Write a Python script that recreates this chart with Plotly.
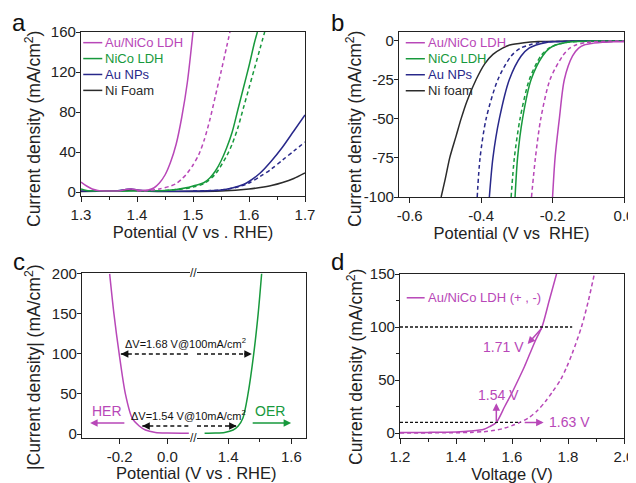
import plotly.graph_objects as go

# the page body has an 8px margin, so the figure is sized/offset to fit the 636x483 window
OFF = 8
W, H = 636 - OFF, 483 - OFF

# ---------------- data ----------------
# Panel a : OER polarization curves (solid / dashed)
a_aunico_x = [1.30, 1.31, 1.32, 1.33, 1.35, 1.37, 1.38, 1.39, 1.40, 1.41, 1.42, 1.43, 1.44, 1.45, 1.46, 1.47, 1.48, 1.49, 1.50]
a_aunico_y = [10, 6, 3, 1.5, 1, 1.2, 2.5, 3, 2, 1.5, 2, 4, 9, 17, 30, 48, 75, 110, 160]
a_aunico_dx = [1.40, 1.42, 1.44, 1.46, 1.47, 1.48, 1.49, 1.50, 1.51, 1.52, 1.53, 1.54, 1.55, 1.56, 1.566]
a_aunico_dy = [1, 1.5, 3, 6, 8.5, 13, 19, 27, 37, 52, 72, 96, 120, 145, 160]
a_nico_x = [1.30, 1.31, 1.33, 1.40, 1.45, 1.47, 1.49, 1.50, 1.51, 1.52, 1.53, 1.54, 1.55, 1.56, 1.57, 1.58, 1.59, 1.60, 1.61, 1.615]
a_nico_y = [3, 1.5, 1, 1, 1.5, 2.5, 4.5, 6, 7.5, 9.5, 14, 21, 31, 44, 60, 82, 104, 126, 150, 160]
a_nico_dx = [1.45, 1.48, 1.50, 1.52, 1.54, 1.56, 1.57, 1.58, 1.59, 1.60, 1.61, 1.62, 1.628]
a_nico_dy = [1.5, 3, 5, 8.5, 18, 36, 48, 64, 84, 104, 124, 144, 160]
a_au_x = [1.30, 1.36, 1.38, 1.39, 1.40, 1.42, 1.50, 1.55, 1.57, 1.59, 1.60, 1.62, 1.64, 1.66, 1.68, 1.70]
a_au_y = [1, 1, 2.5, 3, 2, 1, 1, 2, 4, 7.5, 10.5, 19, 31, 45, 61, 77]
a_au_dx = [1.50, 1.55, 1.58, 1.60, 1.62, 1.64, 1.66, 1.68, 1.70]
a_au_dy = [1, 2, 5, 9, 15.5, 23, 32, 41, 50]
a_ni_x = [1.30, 1.38, 1.39, 1.41, 1.50, 1.55, 1.60, 1.62, 1.64, 1.66, 1.68, 1.70]
a_ni_y = [0.5, 1.5, 2, 1, 0.5, 1, 3, 4.5, 6.5, 9.5, 13.5, 19]

# Panel b : HER polarization curves
b_j = [-100, -75, -50, -25, -10, -5, -3, -1.5, -1, -0.5, -0.4]
b_ni_x = [-0.512, -0.50, -0.488, -0.47, -0.456, -0.44, -0.414, -0.39, -0.367, -0.34, -0.32, -0.28, -0.24, -0.15, 0.0]
b_ni_y = [-100, -88, -75, -61, -50, -39, -25, -15, -9, -5, -3, -1.5, -0.8, -0.4, -0.3]
b_au_x = [-0.377, -0.367, -0.349, -0.321, -0.288, -0.266, -0.246, -0.22, -0.2, -0.1, 0.0]
b_au_dx = [-0.411, -0.403, -0.386, -0.353, -0.316, -0.29, -0.265, -0.24, -0.22, -0.1, 0.0]
b_nico_x = [-0.305, -0.298, -0.284, -0.26, -0.228, -0.208, -0.191, -0.165, -0.144, -0.08, 0.0]
b_nico_dx = [-0.316, -0.307, -0.291, -0.265, -0.233, -0.21, -0.192, -0.166, -0.145, -0.08, 0.0]
b_aunico_dx = [-0.259, -0.248, -0.233, -0.207, -0.172, -0.152, -0.135, -0.11, -0.09, -0.04, 0.0]
b_aunico_x = [-0.200, -0.193, -0.181, -0.167, -0.144, -0.127, -0.112, -0.085, -0.06, -0.03, 0.0]
b_aunico_y = [-100, -75, -50, -25, -10, -5, -3, -1.8, -1.2, -1.0, -0.9]

# Panel c : overall water splitting (HER | OER, broken axis)
c_her_x = [-0.242, -0.224, -0.202, -0.176, -0.148, -0.118, -0.092, -0.05, 0.0, 0.09]
c_her_y = [200, 150, 100, 50, 20, 10, 5, 2, 1.2, 1]
c_oer_x = [1.326, 1.36, 1.389, 1.416, 1.432, 1.447, 1.463, 1.481, 1.495, 1.506]
c_oer_y = [1, 1.2, 2, 5, 10, 20, 50, 100, 150, 200]

# Panel d : two-electrode cell
d_x = [1.20, 1.30, 1.40, 1.45, 1.50, 1.52, 1.544, 1.574, 1.60, 1.622, 1.645, 1.664, 1.685, 1.707, 1.733, 1.759]
d_y = [0.5, 0.6, 1, 1.8, 3.5, 6, 10, 25, 38, 50, 63, 75, 88, 100, 125, 150]
d_dx = [1.20, 1.40, 1.45, 1.50, 1.55, 1.574, 1.60, 1.628, 1.66, 1.69, 1.72, 1.745, 1.773, 1.795, 1.815, 1.848, 1.873, 1.894]
d_dy = [0, 0.3, 0.6, 1.3, 3, 4.7, 7, 10, 14.5, 21, 30, 39, 50, 62, 75, 100, 125, 150]

# tick labels
a_xticks = [1.3, 1.4, 1.5, 1.6, 1.7]
a_xlabels = ["1.3", "1.4", "1.5", "1.6", "1.7"]
a_xminor = [1.35, 1.45, 1.55, 1.65]
a_yticks = [0, 40, 80, 120, 160]
a_ylabels = ["0", "40", "80", "120", "160"]
b_xticks = [-0.6, -0.4, -0.2, 0.0]
b_xlabels = ["-0.6", "-0.4", "-0.2", "0.0"]
b_yticks = [-100, -75, -50, -25, 0]
b_ylabels = ["-100", "-75", "-50", "-25", "0"]
c_xticks_l = [-0.2, 0.0]
c_xlabels_l = ["-0.2", "0.0"]
c_xticks_r = [1.4, 1.6]
c_xlabels_r = ["1.4", "1.6"]
c_xminor_r = [1.5]
c_yticks = [0, 50, 100, 150, 200]
c_ylabels = ["0", "50", "100", "150", "200"]
d_xticks = [1.2, 1.4, 1.6, 1.8, 2.0]
d_xlabels = ["1.2", "1.4", "1.6", "1.8", "2.0"]
d_xminor = [1.3, 1.5, 1.7, 1.9]
d_yticks = [0, 50, 100, 150]
d_ylabels = ["0", "50", "100", "150"]
d_yminor = [25, 75, 125]

# ---------------- style ----------------
MAG = "#B847B8"
GRN = "#17993C"
BLU = "#28288A"
BLK = "#2B2B2B"
AX = "#222222"
FONT = "Liberation Sans, Arial, sans-serif"


def fx(p):
    return (p - OFF) / W


def fy(p):
    return 1 - (p - OFF) / H


fig = go.Figure()


def line(x, y, color, dash="solid", xa="x", ya="y"):
    fig.add_trace(go.Scatter(
        x=x, y=y, mode="lines", xaxis=xa, yaxis=ya, showlegend=False,
        line=dict(color=color, width=1.5, dash=dash, shape="spline", smoothing=0.8),
        hoverinfo="skip"))


DASH = "4px,3px"
# panel a
line(a_ni_x, a_ni_y, BLK)
line(a_au_dx, a_au_dy, BLU, DASH)
line(a_au_x, a_au_y, BLU)
line(a_nico_dx, a_nico_dy, GRN, DASH)
line(a_nico_x, a_nico_y, GRN)
line(a_aunico_dx, a_aunico_dy, MAG, DASH)
line(a_aunico_x, a_aunico_y, MAG)
# panel b
line(b_ni_x, b_ni_y, BLK, xa="x2", ya="y2")
line(b_au_dx, b_j, BLU, DASH, "x2", "y2")
line(b_au_x, b_j, BLU, xa="x2", ya="y2")
line(b_nico_dx, b_j, GRN, DASH, "x2", "y2")
line(b_nico_x, b_j, GRN, xa="x2", ya="y2")
line(b_aunico_dx, b_j, MAG, DASH, "x2", "y2")
line(b_aunico_x, b_aunico_y, MAG, xa="x2", ya="y2")
# panel c
line(c_her_x, c_her_y, MAG, xa="x3", ya="y3")
line(c_oer_x, c_oer_y, GRN, xa="x5", ya="y5")
# panel d
line(d_dx, d_dy, MAG, DASH, "x4", "y4")
line(d_x, d_y, MAG, xa="x4", ya="y4")


def axis(domain, rng, tickvals, ticktext, minor=None, anchor=None, title=None,
         mirror=True, standoff=4, ylike=False, **kw):
    d = dict(domain=domain, range=rng, anchor=anchor, showline=True, linecolor=AX,
             linewidth=1.2, mirror=mirror, ticks="outside", ticklen=4 if ylike else 5,
             tickwidth=1.2, tickcolor=AX, showgrid=False, zeroline=False, tickmode="array",
             tickvals=tickvals, ticktext=ticktext, automargin=False,
             tickfont=dict(family=FONT, size=15, color=AX))
    if ylike:
        d["ticklabelstandoff"] = -3
    if minor:
        d["minor"] = dict(tickmode="array", tickvals=minor, ticks="outside", ticklen=3,
                          tickwidth=1.2, tickcolor=AX, showgrid=False)
    if title:
        d["title"] = dict(text=title, font=dict(family=FONT, size=16.5, color=AX),
                          standoff=standoff)
    d.update(kw)
    return d


layout = dict(
    width=W, height=H, margin=dict(l=0, r=0, t=0, b=0, autoexpand=False),
    paper_bgcolor="white", plot_bgcolor="white",
    font=dict(family=FONT, color=AX),
    xaxis=axis([fx(81), fx(305)], [1.3, 1.7], a_xticks, a_xlabels, a_xminor, "y",
               "Potential (V vs . RHE)", standoff=2),
    yaxis=axis([fy(196), fy(32)], [-4, 160], a_yticks, a_ylabels, None, "x", ylike=True),
    xaxis2=axis([fx(399), fx(624)], [-0.63, 0.0], b_xticks, b_xlabels, None, "y2",
                "Potential (V vs&nbsp; RHE)", standoff=2),
    yaxis2=axis([fy(197), fy(32)], [-100, 5.3], b_yticks, b_ylabels, None, "x2", ylike=True),
    xaxis3=axis([fx(82), fx(190)], [-0.358, 0.095], c_xticks_l, c_xlabels_l, None, "y3"),
    yaxis3=axis([fy(438), fy(273)], [-5, 201], c_yticks, c_ylabels, None, "x3",
                mirror=False, ylike=True),
    xaxis5=axis([fx(197), fx(306)], [1.302, 1.646], c_xticks_r, c_xlabels_r, c_xminor_r, "y5"),
    yaxis5=dict(domain=[fy(438), fy(273)], range=[-5, 201], anchor="x5", side="right",
                showline=True, linecolor=AX, linewidth=1.2, ticks="", showticklabels=False,
                showgrid=False, zeroline=False, automargin=False),
    xaxis4=axis([fx(400), fx(624)], [1.2, 2.0], d_xticks, d_xlabels, d_xminor, "y4",
                "Voltage (V)", standoff=3),
    yaxis4=axis([fy(438), fy(274)], [-4.7, 150], d_yticks, d_ylabels, d_yminor, "x4", ylike=True),
)
fig.update_layout(**layout)

ann = []
shapes = []

# panel letters
for t, x, y in [("a", 19, 22), ("b", 337, 22), ("c", 19, 261), ("d", 337, 261)]:
    ann.append(dict(text=t, x=fx(x), y=fy(y), xref="paper", yref="paper", showarrow=False,
                    xanchor="center", yanchor="middle", font=dict(family=FONT, size=24, color="#111")))

# y-axis titles (rotated text)
YT = "Current density (mA/cm<sup>2</sup>)"
for t, x, y in [(YT, 33, 129), (YT, 354, 129),
                ("|Current density| (mA/cm<sup>2</sup>)", 33, 367), (YT, 355, 367)]:
    ann.append(dict(text=t, x=fx(x), y=fy(y), xref="paper", yref="paper", showarrow=False,
                    textangle=-90, xanchor="center", yanchor="middle",
                    font=dict(family=FONT, size=17.5, color=AX)))

# legends for a and b (short line + label)
leg_a = [("Au/NiCo LDH", MAG), ("NiCo LDH", GRN), ("Au NPs", BLU), ("Ni Foam", BLK)]
leg_b = [("Au/NiCo LDH", MAG), ("NiCo LDH", GRN), ("Au NPs", BLU), ("Ni foam", BLK)]
for (xa, ya, items, x0) in [("x", "y", leg_a, 0.01), ("x2", "y2", leg_b, 0.03)]:
    for i, (txt, col) in enumerate(items):
        yy = 0.935 - i * 0.097
        shapes.append(dict(type="line", xref=xa + " domain", yref=ya + " domain",
                           x0=x0, x1=x0 + 0.085, y0=yy, y1=yy,
                           line=dict(color=col, width=1.5)))
        ann.append(dict(text=txt, xref=xa + " domain", yref=ya + " domain", x=x0 + 0.09, y=yy,
                        xanchor="left", yanchor="middle", showarrow=False,
                        font=dict(family=FONT, size=13, color=col)))

# panel c annotations
DD = "4px,3px"
for (y, xl, xr) in [(100, -0.195, 1.475), (10, -0.105, 1.427)]:
    shapes.append(dict(type="line", xref="x3", yref="y3", x0=xl, x1=0.095, y0=y, y1=y,
                       line=dict(color="#111", width=1.5, dash=DD)))
    shapes.append(dict(type="line", xref="x5", yref="y5", x0=1.302, x1=xr, y0=y, y1=y,
                       line=dict(color="#111", width=1.5, dash=DD)))
    ann.append(dict(x=xl, y=y, xref="x3", yref="y3", ax=9, ay=0, text="", showarrow=True,
                    arrowhead=2, arrowsize=1, arrowwidth=1.5, arrowcolor="#111"))
    ann.append(dict(x=xr, y=y, xref="x5", yref="y5", ax=-9, ay=0, text="", showarrow=True,
                    arrowhead=2, arrowsize=1, arrowwidth=1.5, arrowcolor="#111"))
ann.append(dict(text="ΔV=1.68 V@100mA/cm<sup>2</sup>", x=0.078, y=113, xref="x3", yref="y3",
                showarrow=False, font=dict(family=FONT, size=11, color="#111")))
ann.append(dict(text="ΔV=1.54 V@10mA/cm<sup>2</sup>", x=0.087, y=24, xref="x3", yref="y3",
                showarrow=False, font=dict(family=FONT, size=11, color="#111")))
ann.append(dict(text="HER", x=-0.253, y=29, xref="x3", yref="y3", showarrow=False,
                font=dict(family=FONT, size=14, color=MAG)))
ann.append(dict(x=-0.324, y=13.7, ax=-0.174, ay=13.7, xref="x3", yref="y3", axref="x3", ayref="y3",
                text="", showarrow=True, arrowhead=2, arrowsize=1, arrowwidth=1.5, arrowcolor=MAG))
ann.append(dict(text="OER", x=1.533, y=29, xref="x5", yref="y5", showarrow=False,
                font=dict(family=FONT, size=14, color=GRN)))
ann.append(dict(x=1.599, y=13.7, ax=1.473, ay=13.7, xref="x5", yref="y5", axref="x5", ayref="y5",
                text="", showarrow=True, arrowhead=2, arrowsize=1, arrowwidth=1.5, arrowcolor=GRN))
# broken axis marks and x title for c
for py in (273, 438):
    ann.append(dict(text="//", x=fx(193.5), y=fy(py), xref="paper", yref="paper", showarrow=False,
                    xanchor="center", yanchor="middle", font=dict(family=FONT, size=12, color=AX)))
ann.append(dict(text="Potential (V vs . RHE)", x=fx(196), y=fy(473), xref="paper", yref="paper",
                showarrow=False, xanchor="center", yanchor="middle",
                font=dict(family=FONT, size=16.5, color=AX)))

# panel d annotations
for (y, x1) in [(100, 1.815), (10, 1.63)]:
    shapes.append(dict(type="line", xref="x4", yref="y4", x0=1.2, x1=x1, y0=y, y1=y,
                       line=dict(color="#111", width=1.3, dash="3px,2px")))
shapes.append(dict(type="line", xref="x4 domain", yref="y4 domain", x0=0.03, x1=0.11, y0=0.855, y1=0.855,
                   line=dict(color=MAG, width=1.5)))
ann.append(dict(text="Au/NiCo LDH (+ , -)", xref="x4 domain", yref="y4 domain", x=0.115, y=0.855,
                xanchor="left", yanchor="middle", showarrow=False,
                font=dict(family=FONT, size=13, color=MAG)))
ann.append(dict(x=1.656, y=84, ax=1.71, ay=100, xref="x4", yref="y4", axref="x4", ayref="y4",
                text="", showarrow=True, arrowhead=2, arrowsize=1, arrowwidth=1.5, arrowcolor=MAG))
ann.append(dict(text="1.71 V", x=1.571, y=81, xref="x4", yref="y4", showarrow=False,
                font=dict(family=FONT, size=14, color=MAG)))
ann.append(dict(x=1.544, y=28, ax=1.544, ay=10, xref="x4", yref="y4", axref="x4", ayref="y4",
                text="", showarrow=True, arrowhead=2, arrowsize=1, arrowwidth=1.5, arrowcolor=MAG))
ann.append(dict(text="1.54 V", x=1.55, y=36, xref="x4", yref="y4", showarrow=False,
                font=dict(family=FONT, size=14, color=MAG)))
ann.append(dict(x=1.713, y=10, ax=1.64, ay=10, xref="x4", yref="y4", axref="x4", ayref="y4",
                text="", showarrow=True, arrowhead=2, arrowsize=1, arrowwidth=1.5, arrowcolor=MAG))
ann.append(dict(text="1.63 V", x=1.804, y=10.4, xref="x4", yref="y4", showarrow=False,
                font=dict(family=FONT, size=14, color=MAG)))

fig.update_layout(annotations=ann, shapes=shapes)
fig.write_html("out.html")
